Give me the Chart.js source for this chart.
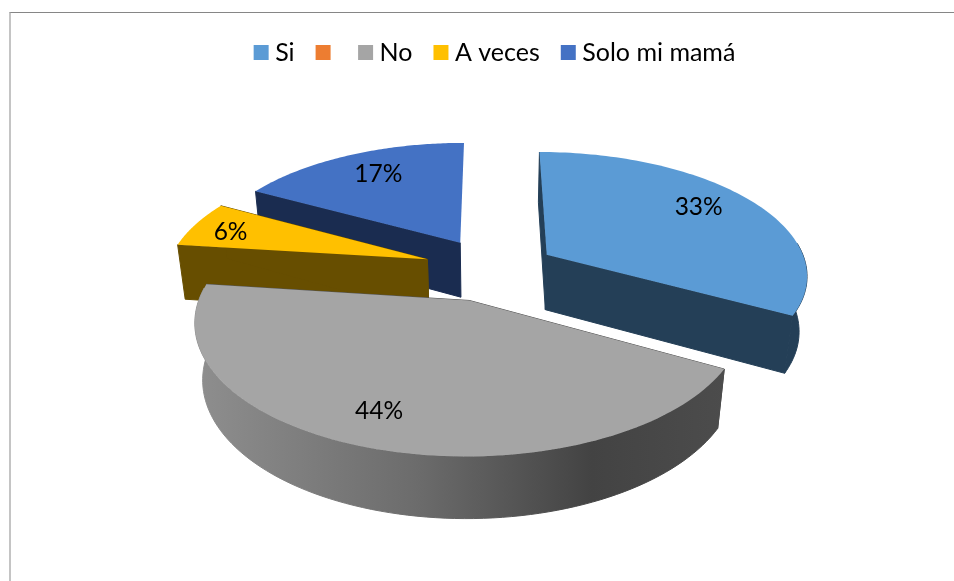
<!DOCTYPE html>
<html>
<head>
<meta charset="utf-8">
<title>Pie</title>
<script src="https://cdn.jsdelivr.net/npm/chart.js@4"></script>
<style>
  html, body { margin: 0; padding: 0; background: #fff; overflow: hidden; }
  #wrap { position: relative; width: 954px; height: 581px; }
  #frame { position: absolute; left: 9px; top: 12px; right: 0; bottom: 0;
           border-top: 1px solid #868686; border-left: 2px solid #c4c4c4; }
  canvas { position: absolute; left: 0; top: 0; }
</style>
</head>
<body>
<div id="wrap">
  <div id="frame"></div>
  <canvas id="chart" width="954" height="581"></canvas>
</div>
<script>
// data
const categories = ["Si", "", "No", "A veces", "Solo mi mamá"];
const percents = [33, 0, 44, 6, 17];

// colours
const topColors = ["#5b9bd5", "#ed7d31", "#a5a5a5", "#ffc000", "#4472c4"];
const wallColors = ["#243f57", "#5e3113", "#555555", "#674e00", "#1a2c50"];

// how far each slice is pulled out, in radius units on the pie's plane
const explodeX = [0.2215, 0, -0.076, -0.243, -0.118];
const explodeY = [-0.127, 0, 0.24, -0.088, -0.23];
// where each percent label sits on the plane
const labelX = [0.866, 0, -0.362, -1.042, -0.485];
const labelY = [-0.555, 0, 0.985, -0.322, -0.887];
// back to front
const drawOrder = [4, 3, 0, 2];

// camera for the fake 3d
const view = { cx: 490, cy: 270, rx: 261, ry: 122.4, depth: 57, persp: 0.15, drop: 0.025 };

const project = (x, y, low) => {
    let s = 1 / (1 - view.persp * y);
    let h = 0;
    if (low) {
        s = s * (1 - view.drop * s);
        h = view.depth;
    }
    return [view.cx + view.rx * s * x, view.cy + s * (view.ry * y + h)];
};

const fillPath = (ctx, pts, fill, seal) => {
    ctx.beginPath();
    pts.forEach((p, i) => (i ? ctx.lineTo(p[0], p[1]) : ctx.moveTo(p[0], p[1])));
    ctx.closePath();
    ctx.fillStyle = fill;
    ctx.fill();
    // hide the hairline between neighbouring wall pieces
    if (seal) {
        ctx.strokeStyle = fill;
        ctx.lineWidth = 1;
        ctx.stroke();
    }
};

const pie3d = {
    id: "pie3d",
    // the arcs keep their angles from the controller, only the drawing is tilted
    beforeDatasetDraw() {
        return false;
    },
    afterDatasetsDraw(chart) {
        const ctx = chart.ctx;
        const arcs = chart.getDatasetMeta(0).data;

        const sideFade = ctx.createLinearGradient(192, 0, 725, 0);
        sideFade.addColorStop(0, "#8f8f8f");
        sideFade.addColorStop(0.42, "#6c6c6c");
        sideFade.addColorStop(0.75, "#434343");
        sideFade.addColorStop(1, "#4c4c4c");

        drawOrder.forEach(i => {
            const arc = arcs[i];
            const ox = explodeX[i];
            const oy = explodeY[i];
            const rim = [];
            const front = [];
            for (let n = 0; n <= 90; n++) {
                const a = arc.startAngle + (arc.endAngle - arc.startAngle) * n / 90;
                const p = [ox + Math.cos(a), oy + Math.sin(a)];
                rim.push(p);
                // only the part of the rim that faces the viewer gets a side
                if (Math.sin(a) > -0.1) front.push(p);
            }
            const rimTop = rim.map(p => project(p[0], p[1], false));
            const first = rim[0];
            const last = rim[rim.length - 1];
            const wall = wallColors[i];

            // the two cut faces (the last slice's closing face looks away from us)
            (i === 4 ? [first] : [first, last]).forEach(p => {
                fillPath(ctx, [
                    project(ox, oy, false), project(p[0], p[1], false),
                    project(p[0], p[1], true), project(ox, oy, true)
                ], wall, true);
            });
            // outer curved side
            if (front.length > 1) {
                const sideTop = front.map(p => project(p[0], p[1], false));
                const sideLow = front.map(p => project(p[0], p[1], true));
                fillPath(ctx, sideTop.concat(sideLow.reverse()), i === 2 ? sideFade : wall, true);
            }
            // top
            fillPath(ctx, [project(ox, oy, false)].concat(rimTop), arc.options.backgroundColor, false);
        });

        ctx.save();
        ctx.fillStyle = "#000";
        ctx.font = "24.5px Lato";
        ctx.textAlign = "center";
        ctx.textBaseline = "middle";
        percents.forEach((v, i) => {
            if (!v) return;
            const p = project(labelX[i], labelY[i], false);
            ctx.fillText(v + "%", p[0], p[1]);
        });
        ctx.restore();
    }
};

new Chart(document.getElementById("chart"), {
    type: "pie",
    data: {
        labels: categories,
        datasets: [{
            data: percents,
            backgroundColor: topColors,
            borderWidth: 0
        }]
    },
    plugins: [pie3d],
    options: {
        responsive: false,
        animation: false,
        layout: { padding: { left: 41, top: 13 } },
        plugins: {
            tooltip: { enabled: false },
            legend: {
                position: "top",
                labels: {
                    color: "#000",
                    font: { family: "Lato", size: 25 },
                    boxWidth: 3,
                    boxHeight: 3,
                    padding: 27,
                    // thick border around a tiny box: keeps the text close to the 15px square
                    generateLabels(chart) {
                        return Chart.overrides.pie.plugins.legend.labels.generateLabels(chart).map(item => {
                            item.strokeStyle = item.fillStyle;
                            item.lineWidth = 12;
                            return item;
                        });
                    }
                }
            }
        }
    }
});
</script>
</body>
</html>
